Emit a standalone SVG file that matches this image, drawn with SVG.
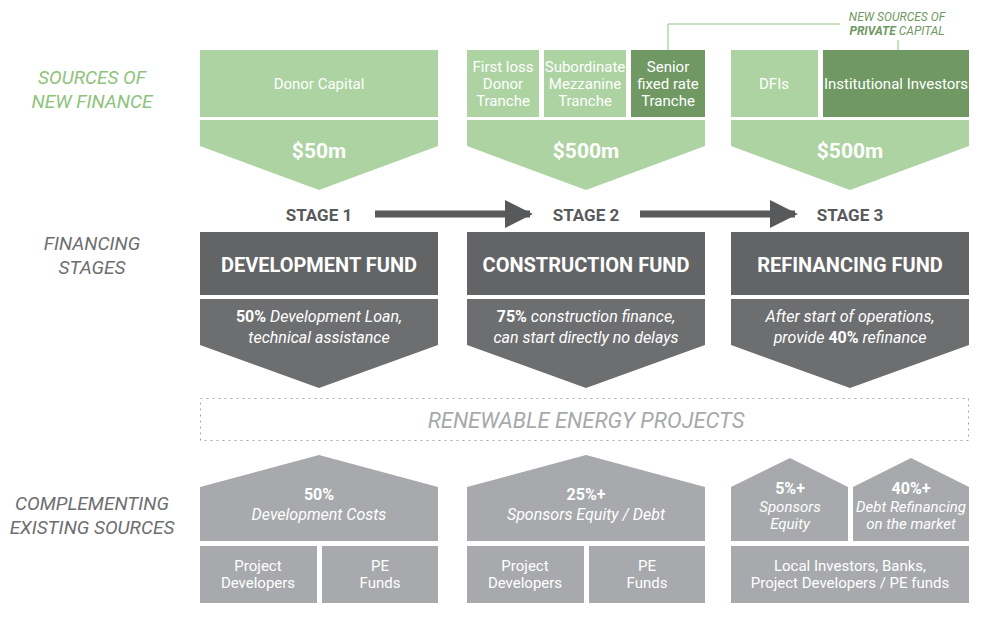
<svg xmlns="http://www.w3.org/2000/svg" width="986" height="620" viewBox="0 0 986 620">
<defs>
<style>
text{font-family:"Roboto","Liberation Sans",sans-serif;text-anchor:middle}
.lg{fill:#acd3a1}.dg{fill:#6f9863}.dk{fill:#636466}.mk{fill:#6d6e70}.gr{fill:#a7a9ac}
.w{fill:#fff;font-size:15px}.wb{fill:#fff;font-size:21px;font-weight:bold}
.side{fill:#6d6e70;font-size:19px;font-style:italic}
.st{fill:#58595b;font-size:17px;font-weight:bold}
.wi{fill:#fff;font-size:16px;font-style:italic}
</style>
<marker id="ah" viewBox="0 0 10 10" refX="9" refY="5" markerWidth="4" markerHeight="4" orient="auto"><path d="M0,0L10,5L0,10z" fill="#58595b"/></marker>
</defs>
<rect width="986" height="620" fill="#fff"/>
<g id="labels">
<text x="92" y="84" class="side" style="fill:#8dc37b">SOURCES OF</text>
<text x="92" y="108" class="side" style="fill:#8dc37b">NEW FINANCE</text>
<text x="92" y="250" class="side">FINANCING</text>
<text x="92" y="274" class="side">STAGES</text>
<text x="92" y="510" class="side">COMPLEMENTING</text>
<text x="92" y="534" class="side">EXISTING SOURCES</text>
</g>
<g id="callout">
<path d="M668,50V24H840M898,40V50" fill="none" stroke="#8dc37b" stroke-width="1"/>
<text x="897" y="21" style="fill:#6f9863;font-size:12px;font-style:italic">NEW SOURCES OF</text>
<text x="897" y="35" style="fill:#6f9863;font-size:12px;font-style:italic"><tspan font-weight="bold">PRIVATE</tspan> CAPITAL</text>
</g>
<g id="sources">
<rect x="200" y="50" width="238" height="67" class="lg"/><text x="319" y="89" class="w">Donor Capital</text>
<rect x="467" y="50" width="72" height="67" class="lg"/><text x="503" y="72" class="w">First loss</text><text x="503" y="89" class="w">Donor</text><text x="503" y="106" class="w">Tranche</text>
<rect x="544" y="50" width="82" height="67" class="lg"/><text x="585" y="72" class="w">Subordinate</text><text x="585" y="89" class="w">Mezzanine</text><text x="585" y="106" class="w">Tranche</text>
<rect x="631" y="50" width="74" height="67" class="dg"/><text x="668" y="72" class="w">Senior</text><text x="668" y="89" class="w">fixed rate</text><text x="668" y="106" class="w">Tranche</text>
<rect x="731" y="50" width="87" height="67" class="lg"/><text x="774" y="89" class="w">DFIs</text>
<rect x="823" y="50" width="146" height="67" class="dg"/><text x="896" y="89" class="w">Institutional Investors</text>
</g>
<g id="amounts">
<path d="M200,120H438V146L319,190L200,146Z" class="lg"/><text x="319" y="158" class="wb">$50m</text>
<path d="M467,120H705V146L586,190L467,146Z" class="lg"/><text x="586" y="158" class="wb">$500m</text>
<path d="M731,120H969V146L850,190L731,146Z" class="lg"/><text x="850" y="158" class="wb">$500m</text>
</g>
<g id="connectors">
<line x1="375" y1="214" x2="530" y2="214" stroke="#58595b" stroke-width="7" marker-end="url(#ah)"/>
<line x1="640" y1="214" x2="795" y2="214" stroke="#58595b" stroke-width="7" marker-end="url(#ah)"/>
</g>
<g id="stages">
<text x="319" y="221" class="st">STAGE 1</text><text x="586" y="221" class="st">STAGE 2</text><text x="850" y="221" class="st">STAGE 3</text>
<rect x="200" y="232" width="238" height="63" class="dk"/><text x="319" y="272" class="wb" style="font-size:20px">DEVELOPMENT FUND</text>
<rect x="467" y="232" width="238" height="63" class="dk"/><text x="586" y="272" class="wb" style="font-size:20px">CONSTRUCTION FUND</text>
<rect x="731" y="232" width="238" height="63" class="dk"/><text x="850" y="272" class="wb" style="font-size:20px">REFINANCING FUND</text>
<path d="M200,299H438V345L319,388L200,345Z" class="mk"/>
<text x="319" y="322" class="wi"><tspan font-weight="bold" font-style="normal">50%</tspan> Development Loan,</text><text x="319" y="343" class="wi">technical assistance</text>
<path d="M467,299H705V345L586,388L467,345Z" class="mk"/>
<text x="586" y="322" class="wi"><tspan font-weight="bold" font-style="normal">75%</tspan> construction finance,</text><text x="586" y="343" class="wi">can start directly no delays</text>
<path d="M731,299H969V345L850,388L731,345Z" class="mk"/>
<text x="850" y="322" class="wi">After start of operations,</text><text x="850" y="343" class="wi">provide <tspan font-weight="bold" font-style="normal">40%</tspan> refinance</text>
</g>
<g id="projects">
<rect x="200.5" y="398.5" width="768" height="42" fill="none" stroke="#a7a9ac" stroke-width="1" stroke-dasharray="2,4"/>
<text x="586" y="428" style="fill:#a7a9ac;font-size:22px;font-style:italic">RENEWABLE ENERGY PROJECTS</text>
</g>
<g id="existing">
<path d="M200,487L319,455L438,487V541H200Z" class="gr"/>
<text x="319" y="500" class="w" style="font-weight:bold;font-size:16px">50%</text><text x="319" y="520" class="wi">Development Costs</text>
<path d="M467,487L586,455L705,487V541H467Z" class="gr"/>
<text x="586" y="500" class="w" style="font-weight:bold;font-size:16px">25%+</text><text x="586" y="520" class="wi">Sponsors Equity / Debt</text>
<path d="M731,487L790,458L848,487V541H731Z" class="gr"/>
<text x="790" y="494" class="w" style="font-weight:bold;font-size:16px">5%+</text><text x="790" y="512" class="wi" style="font-size:15px">Sponsors</text><text x="790" y="529" class="wi" style="font-size:15px">Equity</text>
<path d="M853,487L911,458L969,487V541H853Z" class="gr"/>
<text x="911" y="494" class="w" style="font-weight:bold;font-size:16px">40%+</text><text x="911" y="512" class="wi" style="font-size:15px">Debt Refinancing</text><text x="911" y="529" class="wi" style="font-size:15px">on the market</text>
<rect x="200" y="546" width="117" height="57" class="gr"/><text x="258" y="571" class="w">Project</text><text x="258" y="588" class="w">Developers</text>
<rect x="322" y="546" width="116" height="57" class="gr"/><text x="380" y="571" class="w">PE</text><text x="380" y="588" class="w">Funds</text>
<rect x="467" y="546" width="117" height="57" class="gr"/><text x="525" y="571" class="w">Project</text><text x="525" y="588" class="w">Developers</text>
<rect x="589" y="546" width="116" height="57" class="gr"/><text x="647" y="571" class="w">PE</text><text x="647" y="588" class="w">Funds</text>
<rect x="731" y="546" width="238" height="57" class="gr"/><text x="850" y="571" class="w">Local Investors, Banks,</text><text x="850" y="588" class="w">Project Developers / PE funds</text>
</g>
</svg>
